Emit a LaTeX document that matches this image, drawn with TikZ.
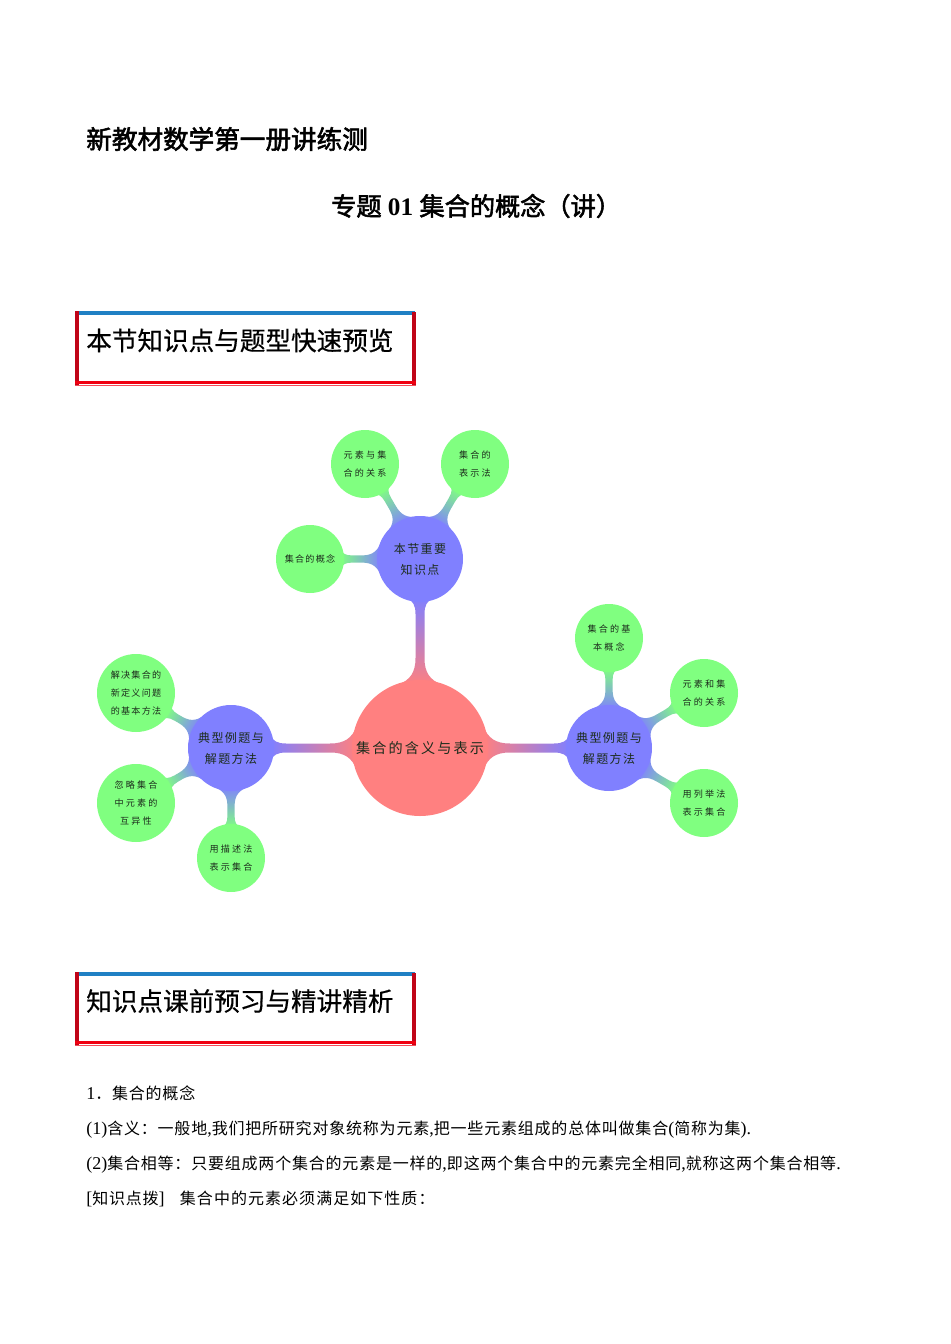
\documentclass[tikz,border=0pt]{standalone}
\usepackage{fontspec}
\setmainfont{Liberation Serif}
\newfontfamily\cjk{Noto Sans CJK SC}
\newfontfamily\cjkhead[FakeBold=0.5]{Noto Sans CJK SC}
\newfontfamily\cjktitle[FakeBold=2.2]{Noto Sans CJK SC}
\newfontfamily\cjkg[LetterSpace=24]{Noto Sans CJK SC}
\newfontfamily\cjkt[LetterSpace=14]{Noto Sans CJK SC}
\newfontfamily\cjkb[LetterSpace=12]{Noto Sans CJK SC}
\newfontfamily\cjkr[LetterSpace=15]{Noto Sans CJK SC}
\newfontfamily\cjkbody[LetterSpace=5]{Noto Sans CJK SC}
\newfontfamily\cjkwide[LetterSpace=6.5]{Noto Sans CJK SC}
\usetikzlibrary{backgrounds}
\definecolor{mred}{HTML}{FF8080}
\definecolor{mblue}{HTML}{8080FF}
\definecolor{mgreen}{HTML}{80FF80}
\definecolor{boxblue}{HTML}{2080C4}
\definecolor{boxdark}{HTML}{C00418}
\definecolor{boxred}{HTML}{F00010}
\definecolor{mtext}{HTML}{1C2C1C}
\newcommand{\fs}[1]{\fontsize{#1}{#1}\selectfont}
\newcommand{\zb}[1]{{\fontsize{12}{12}\cjkbody #1}}
\tikzset{
  x=0.75pt,y=-0.75pt,
  txt/.style={inner sep=0pt,anchor=west,text=black},
  root/.style={circle,fill=mred,minimum size=102pt,inner sep=0pt,align=center,text=mtext,font=\fs{10.6}\cjkr},
  hub/.style={circle,fill=mblue,minimum size=64.5pt,inner sep=0pt,align=center,text=mtext,font=\fs{9}\cjkb,execute at begin node={\baselineskip=15.8pt}},
  leaf/.style={circle,fill=mgreen,minimum size=51pt,inner sep=0pt,align=center,text=mtext,font=\fs{6.8}\cjkg,execute at begin node={\baselineskip=13.5pt}},
  bigleaf/.style={leaf,minimum size=58.5pt},
  tight/.style={font=\fs{6.8}\cjkt},
}
% tapered link between named circles: a, b, radius a, radius b (px), colours, bend (px), flare at a (px)
% \lhw half neck, \lfb flare at b, \lLa and \lLb flare lengths (all px)
\newcommand{\mlink}[8]{%
  \pgfmathanglebetweenpoints{\pgfpointanchor{#1}{center}}{\pgfpointanchor{#2}{center}}\let\lang\pgfmathresult
  \pgfpointdiff{\pgfpointanchor{#1}{center}}{\pgfpointanchor{#2}{center}}\pgfgetlastxy{\ldx}{\ldy}%
  \pgfmathsetmacro\ldist{veclen(\ldx,\ldy)}%
  \pgfmathsetmacro\xa{(#3-5)*.75}%
  \pgfmathsetmacro\xb{\ldist-(#4-4)*.75}%
  \pgfmathsetmacro\bnd{#7*.75}%
  \pgfmathsetmacro\hh{\lhw*.75}%
  \pgfmathsetmacro\up{\bnd+\hh}%
  \pgfmathsetmacro\dn{\bnd-\hh}%
  \pgfmathsetmacro\fa{#8*.75}%
  \pgfmathsetmacro\fb{\lfb*.75}%
  \pgfmathsetmacro\La{\lLa*.75}%
  \pgfmathsetmacro\Lb{\lLb*.75}%
  % control abscissae
  \pgfmathsetmacro\aa{\xa+.2*\La}%
  \pgfmathsetmacro\ab{\xa+.45*\La}%
  \pgfmathsetmacro\ac{\xa+\La}%
  \pgfmathsetmacro\ba{\xb-.2*\Lb}%
  \pgfmathsetmacro\bb{\xb-.45*\Lb}%
  \pgfmathsetmacro\bc{\xb-\Lb}%
  % control ordinates
  \pgfmathsetmacro\yaT{.3*\fa+.7*\up}%
  \pgfmathsetmacro\yaB{-.3*\fa+.7*\dn}%
  \pgfmathsetmacro\ybT{\bnd+.3*\fb+.7*\hh}%
  \pgfmathsetmacro\ybB{\bnd-.3*\fb-.7*\hh}%
  \pgfmathsetmacro\eT{\bnd+\fb}%
  \pgfmathsetmacro\eB{\bnd-\fb}%
  \path[transform canvas={shift={(#1)},rotate=\lang},left color=#5,right color=#6]
    (\xa pt,\fa pt)
    .. controls (\aa pt,\yaT pt) and (\ab pt,\up pt) .. (\ac pt,\up pt)
    -- (\bc pt,\up pt)
    .. controls (\bb pt,\up pt) and (\ba pt,\ybT pt) .. (\xb pt,\eT pt)
    -- (\xb pt,\eB pt)
    .. controls (\ba pt,\ybB pt) and (\bb pt,\dn pt) .. (\bc pt,\dn pt)
    -- (\ac pt,\dn pt)
    .. controls (\ab pt,\dn pt) and (\aa pt,\yaB pt) .. (\xa pt,-\fa pt)
    -- cycle;%
}
\newcommand{\secbox}[3]{%
  \fill[boxblue] (78,#1) rectangle (415,#1+4);
  \fill[boxdark] (75,#1) rectangle (79,#1+74);
  \fill[boxdark] (412,#1+1) rectangle (416,#1+74);
  \fill[boxred] (75,#1+69.5) rectangle (416,#1+72.5);
  \fill[boxred!70!white] (75,#1+73.5) rectangle (416,#1+74.5);
  \node[txt,font=\fs{19.2}\cjkhead] (#2) at (86,#1+29.5) {#3};
}
\begin{document}
\begin{tikzpicture}
\begin{pgfonlayer}{background}
\fill[white] (0,0) rectangle (950,1344);
\end{pgfonlayer}
\useasboundingbox (0,0) rectangle (950,1344);

\node[txt,font=\fs{19.2}\cjktitle] (title) at (86,139) {新教材数学第一册讲练测};
\node[txt,font=\fs{18.9}] (sub) at (331,206) {{\cjktitle 专题} {\bfseries 01} {\cjktitle 集合的概念（讲）}};

\secbox{311}{sec1}{本节知识点与题型快速预览}
\secbox{971.5}{sec2}{知识点课前预习与精讲精析}

% mind map
\node[root] (r) at (420,748) {集合的含义与表示};
\node[hub] (h1) at (420,559) {本节重要\\知识点};
\node[hub] (h2) at (231,748) {典型例题与\\解题方法};
\node[hub] (h3) at (609,748) {典型例题与\\解题方法};
\node[leaf] (a1) at (365,464) {元素与集\\合的关系};
\node[leaf] (a2) at (475,464) {集合的\\表示法};
\node[leaf,tight] (a3) at (310,559) {集合的概念};
\node[bigleaf,tight] (b1) at (136,693) {解决集合的\\新定义问题\\的基本方法};
\node[bigleaf] (b2) at (136,803) {忽略集合\\中元素的\\互异性};
\node[leaf] (b3) at (231,858) {用描述法\\表示集合};
\node[leaf] (c1) at (609,638) {集合的基\\本概念};
\node[leaf] (c2) at (704,693) {元素和集\\合的关系};
\node[leaf] (c3) at (704,803) {用列举法\\表示集合};

\begin{pgfonlayer}{background}
\def\lhw{4.5}\def\lfb{13}\def\lLa{27}\def\lLb{16}
\mlink{r}{h1}{68}{43}{mred}{mblue}{0}{22}
\mlink{r}{h2}{68}{43}{mred}{mblue}{0}{22}
\mlink{r}{h3}{68}{43}{mred}{mblue}{0}{22}
\def\lhw{3.6}\def\lfb{10}\def\lLa{20}\def\lLb{12}
\mlink{h1}{a1}{43}{34}{mblue}{mgreen}{-2}{19}
\mlink{h1}{a2}{43}{34}{mblue}{mgreen}{2}{19}
\mlink{h1}{a3}{43}{34}{mblue}{mgreen}{0}{19}
\mlink{h2}{b1}{43}{39}{mblue}{mgreen}{1}{19}
\mlink{h2}{b2}{43}{39}{mblue}{mgreen}{-1}{19}
\mlink{h2}{b3}{43}{34}{mblue}{mgreen}{0}{19}
\mlink{h3}{c1}{43}{34}{mblue}{mgreen}{0}{19}
\mlink{h3}{c2}{43}{34}{mblue}{mgreen}{1.5}{19}
\mlink{h3}{c3}{43}{34}{mblue}{mgreen}{-1.5}{19}
\end{pgfonlayer}

% body text
\node[txt,font=\fs{13.5}] (l1) at (86,1093) {1\zb{．集合的概念}};
\node[txt,font=\fs{13.5}] (l2) at (86,1129.5) {(1)\zb{含义：一般地},\zb{我们把所研究对象统称为元素},\zb{把一些元素组成的总体叫做集合}(\zb{简称为集}).};
\node[txt,font=\fs{13.5}] (l3) at (86,1164.5) {(2)\zb{集合相等：只要组成两个集合的元素是一样的},\zb{即这两个集合中的元素完全相同},\zb{就称这两个集合相等}.};
\node[txt,font=\fs{13.5}] (l4) at (86,1199) {[\zb{知识点拨}]\hspace{.85em}{\fontsize{12}{12}\cjkwide 集合中的元素必须满足如下性质：}};
\end{tikzpicture}
\end{document}
